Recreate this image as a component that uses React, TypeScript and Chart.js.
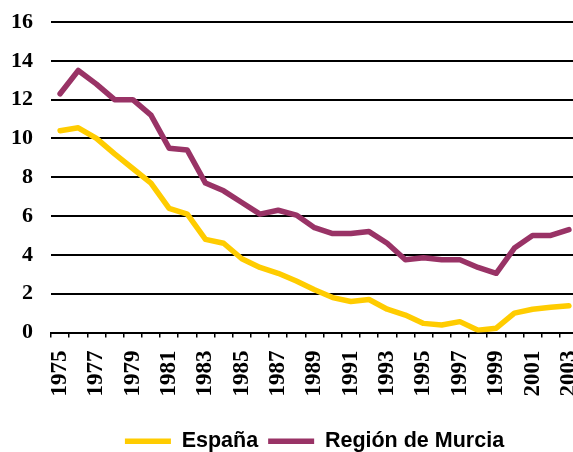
import React, { useEffect, useRef } from "react";
import { Chart, registerables } from "chart.js";

Chart.register(...registerables);

const years: string[] = [
  "1975", "1976", "1977", "1978", "1979", "1980", "1981", "1982", "1983", "1984",
  "1985", "1986", "1987", "1988", "1989", "1990", "1991", "1992", "1993", "1994",
  "1995", "1996", "1997", "1998", "1999", "2000", "2001", "2002", "2003",
];

const espana: number[] = [
  10.4, 10.55, 10.0, 9.2, 8.45, 7.7, 6.4, 6.1, 4.8, 4.6,
  3.8, 3.35, 3.05, 2.65, 2.2, 1.8, 1.6, 1.7, 1.2, 0.9,
  0.47, 0.39, 0.56, 0.12, 0.22, 1.0, 1.2, 1.3, 1.38,
];

const murcia: number[] = [
  12.3, 13.5, 12.8, 12.0, 12.0, 11.2, 9.5, 9.4, 7.7, 7.3,
  6.7, 6.1, 6.3, 6.05, 5.4, 5.1, 5.1, 5.2, 4.6, 3.75,
  3.85, 3.75, 3.75, 3.35, 3.05, 4.35, 5.0, 5.0, 5.3,
];

const seriesNames: string[] = ["España", "Región de Murcia"];
const yMin = 0;
const yMax = 16;
const yStep = 2;

export default function App() {
  const canvasRef = useRef<HTMLCanvasElement | null>(null);

  useEffect(() => {
    if (!canvasRef.current) return;
    const chart = new Chart(canvasRef.current, {
      type: "line",
      data: {
        labels: years,
        datasets: [
          {
            label: seriesNames[0],
            data: espana,
            borderColor: "#FFCC00",
            backgroundColor: "#FFCC00",
            borderWidth: 5.5,
            pointRadius: 0,
            tension: 0,
            borderCapStyle: "round",
            borderJoinStyle: "round",
          },
          {
            label: seriesNames[1],
            data: murcia,
            borderColor: "#993366",
            backgroundColor: "#993366",
            borderWidth: 5.5,
            pointRadius: 0,
            tension: 0,
            borderCapStyle: "round",
            borderJoinStyle: "round",
          },
        ],
      },
      options: {
        responsive: false,
        animation: false,
        devicePixelRatio: 1,
        layout: { padding: { top: 22, left: 0, right: 0, bottom: -10 } },
        plugins: {
          tooltip: { enabled: false },
          legend: {
            position: "bottom",
            fullSize: false,
            labels: {
              usePointStyle: true,
              pointStyle: "line",
              pointStyleWidth: 46,
              padding: 10,
              color: "#000",
              font: { family: "'Liberation Sans', Arial, sans-serif", size: 21.5, weight: "bold" },
            },
          },
        },
        scales: {
          x: {
            offset: true,
            grid: {
              display: true,
              offset: true,
              drawOnChartArea: false,
              drawTicks: true,
              tickLength: 5,
              color: "#000",
              lineWidth: 1.5,
            },
            border: { display: true, color: "#000", width: 2 },
            ticks: {
              autoSkip: false,
              minRotation: 90,
              maxRotation: 90,
              padding: 13,
              color: "#000",
              font: { family: "'Liberation Serif', 'Times New Roman', serif", size: 23, weight: "bold" },
              callback: (_v: any, idx: number) => (idx % 2 === 0 ? years[idx] : ""),
            },
            afterFit: (scale: any) => {
              scale.height = 88;
              scale.paddingLeft = 0;
              scale.paddingRight = 0;
            },
          },
          y: {
            min: yMin,
            max: yMax,
            grid: { color: "#000", lineWidth: 2, drawTicks: false },
            border: { display: false },
            ticks: {
              stepSize: yStep,
              padding: 18,
              color: "#000",
              font: { family: "'Liberation Serif', 'Times New Roman', serif", size: 22, weight: "bold" },
            },
            afterFit: (scale: any) => {
              scale.width = 51;
              scale.paddingTop = 0;
              scale.paddingBottom = 0;
            },
          },
        },
      },
    });
    return () => chart.destroy();
  }, []);

  return (
    <div style={{ position: "absolute", left: 0, top: 0, width: 573, height: 452, overflow: "hidden", background: "#fff" }}>
      <canvas ref={canvasRef} width={578} height={452} style={{ width: 578, height: 452, display: "block" }} />
    </div>
  );
}
